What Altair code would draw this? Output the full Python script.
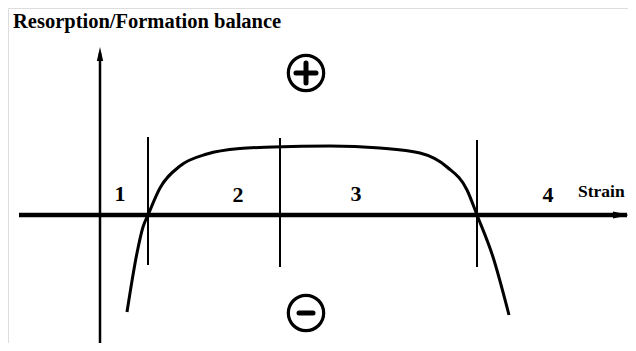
import altair as alt
import pandas as pd

# Schematic: strain (x) vs resorption/formation balance (y), arbitrary units
curve_strain = [0.27, 0.37, 0.43, 0.48, 0.60, 0.80, 1.07, 1.40, 1.73, 2.30, 2.80, 3.20, 3.47, 3.67, 3.77, 3.93, 4.09]
curve_balance = [-0.97, -0.38, -0.12, 0.0, 0.27, 0.49, 0.61, 0.665, 0.68, 0.69, 0.67, 0.62, 0.48, 0.25, 0.0, -0.42, -1.00]

zone_bounds = [0.48, 1.80, 3.77]
zone_top = [0.78, 0.77, 0.75]
zone_bottom = [-0.50, -0.52, -0.52]

zone_labels = ["1", "2", "3", "4"]
zone_label_x = [0.20, 1.38, 2.56, 4.48]
zone_label_y = [0.21, 0.20, 0.21, 0.20]

sign_x = [2.06, 2.06]
sign_y = [1.42, -0.98]
sign_shape = ["M-1,0L1,0M0,-1L0,1", "M-1,0L1,0"]

x_axis_range = [-0.81, 5.27]
y_axis_range = [-1.40, 1.62]

title_text = "Resorption/Formation balance"
x_label = "Strain"

xs = alt.Scale(domain=[-0.92, 5.28], nice=False, zero=False)
ys = alt.Scale(domain=[-1.28, 2.07], nice=False, zero=False)

X = lambda f: alt.X(f, type="quantitative", scale=xs, axis=None)
Y = lambda f: alt.Y(f, type="quantitative", scale=ys, axis=None)

curve_df = pd.DataFrame({"s": curve_strain, "b": curve_balance, "o": range(len(curve_strain))})
zones_df = pd.DataFrame({"s": zone_bounds, "t": zone_top, "b": zone_bottom})
labels_df = pd.DataFrame({"s": zone_label_x, "b": zone_label_y, "t": zone_labels})
signs_df = pd.DataFrame({"s": sign_x, "b": sign_y, "shape": sign_shape, "size": [400, 196]})
xaxis_df = pd.DataFrame({"s": [x_axis_range[0]], "s2": [x_axis_range[1]], "b": [0.0]})
yaxis_df = pd.DataFrame({"s": [0.0], "b": [y_axis_range[0]], "b2": [y_axis_range[1]]})

xaxis = alt.Chart(xaxis_df).mark_rule(color="black", strokeWidth=4.5).encode(
    x=X("s"), x2="s2", y=Y("b"))
xarrow = alt.Chart(pd.DataFrame({"s": [x_axis_range[1] + 0.02 - 0.08], "b": [0.0]})).mark_point(
    shape="M-1,-0.45L1,0L-1,0.45Z", size=256, filled=True, color="black", opacity=1).encode(
    x=X("s"), y=Y("b"))
yaxis = alt.Chart(yaxis_df).mark_rule(color="black", strokeWidth=2.5).encode(
    x=X("s"), y=Y("b"), y2="b2")
yarrow = alt.Chart(pd.DataFrame({"s": [0.0], "b": [y_axis_range[1] - 0.01]})).mark_point(
    shape="M-0.45,1L0,-1L0.45,1Z", size=196, filled=True, color="black", opacity=1).encode(
    x=X("s"), y=Y("b"))

zones = alt.Chart(zones_df).mark_rule(color="black", strokeWidth=2).encode(
    x=X("s"), y=Y("b"), y2="t")

curve = alt.Chart(curve_df).mark_line(color="black", strokeWidth=3, interpolate="monotone").encode(
    x=X("s"), y=Y("b"), order="o:Q")

labels = alt.Chart(labels_df).mark_text(
    font="Liberation Serif", fontWeight="bold", fontSize=22, color="black", baseline="middle"
).encode(x=X("s"), y=Y("b"), text="t:N")

circles = alt.Chart(signs_df).mark_point(
    shape="circle", size=1250, filled=False, color="black", strokeWidth=3.2, opacity=1
).encode(x=X("s"), y=Y("b"))

sign_marks = alt.Chart(signs_df).mark_point(
    filled=False, color="black", strokeWidth=5, opacity=1, strokeCap="round"
).encode(x=X("s"), y=Y("b"),
         shape=alt.Shape("shape:N", scale=None, legend=None),
         size=alt.Size("size:Q", scale=None, legend=None))

title = alt.Chart(pd.DataFrame({"s": [-0.87], "b": [1.93], "t": [title_text]})).mark_text(
    font="Liberation Serif", fontWeight="bold", fontSize=20.5, color="black", align="left", baseline="middle"
).encode(x=X("s"), y=Y("b"), text="t:N")

strain = alt.Chart(pd.DataFrame({"s": [4.78], "b": [0.235], "t": [x_label]})).mark_text(
    font="Liberation Serif", fontWeight="bold", fontSize=17.5, color="black", align="left", baseline="middle"
).encode(x=X("s"), y=Y("b"), text="t:N")

chart = alt.layer(
    xaxis, yaxis, zones, curve, xarrow, yarrow, labels, circles, sign_marks, title, strain
).properties(
    width=620, height=335, padding=0, autosize=alt.AutoSizeParams(type="none")
).configure_view(stroke=None).configure(background="white")

chart.save("out.html", embed_options={"renderer": "svg", "actions": False})
